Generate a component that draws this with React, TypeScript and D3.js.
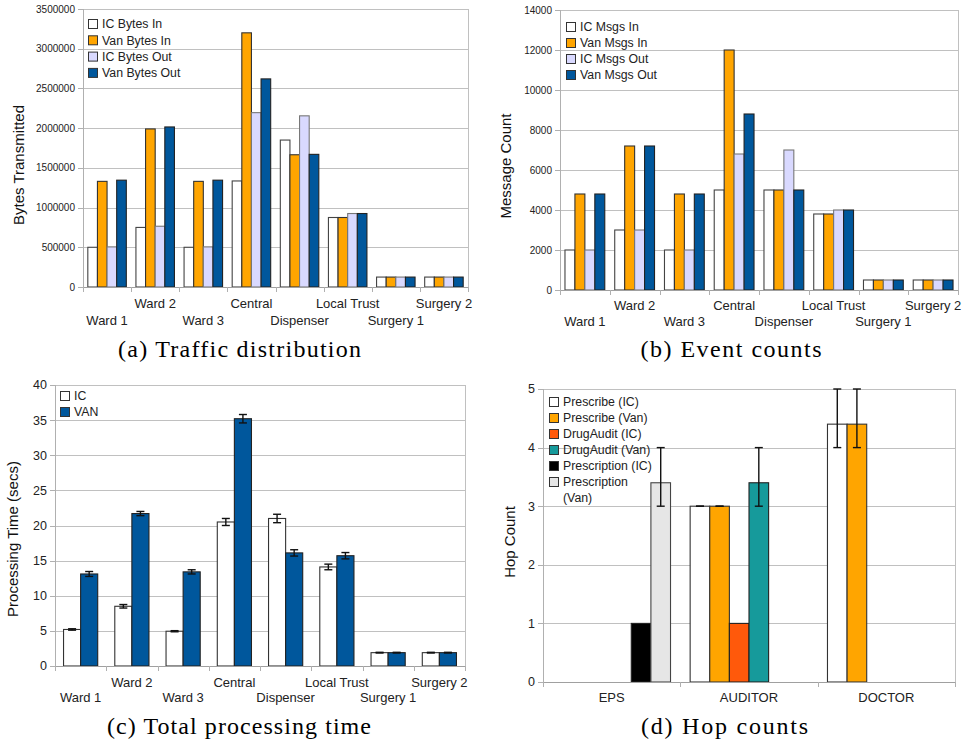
import React from 'react';
import * as d3 from 'd3';

// ---- data ----
const wards = ['Ward 1', 'Ward 2', 'Ward 3', 'Central', 'Dispenser', 'Local Trust', 'Surgery 1', 'Surgery 2'];

const bytesSeriesNames = ['IC Bytes In', 'Van Bytes In', 'IC Bytes Out', 'Van Bytes Out'];
const icBytesIn = [500000, 750000, 500000, 1335000, 1850000, 875000, 125000, 125000];
const vanBytesIn = [1330000, 1990000, 1330000, 3200000, 1665000, 875000, 125000, 125000];
const icBytesOut = [505000, 765000, 505000, 2195000, 2155000, 925000, 125000, 125000];
const vanBytesOut = [1345000, 2015000, 1345000, 2620000, 1670000, 925000, 125000, 125000];

const msgSeriesNames = ['IC Msgs In', 'Van Msgs In', 'IC Msgs Out', 'Van Msgs Out'];
const icMsgsIn = [2000, 3000, 2000, 5000, 5000, 3800, 500, 500];
const vanMsgsIn = [4800, 7200, 4800, 12000, 5000, 3800, 500, 500];
const icMsgsOut = [2000, 3000, 2000, 6800, 7000, 4000, 500, 500];
const vanMsgsOut = [4800, 7200, 4800, 8800, 5000, 4000, 500, 500];

const timeSeriesNames = ['IC', 'VAN'];
const icTime = [5.2, 8.5, 4.95, 20.5, 21.0, 14.1, 1.9, 1.9];
const icTimeErr = [0.1, 0.25, 0.08, 0.5, 0.6, 0.4, 0.05, 0.05];
const vanTime = [13.1, 21.7, 13.4, 35.2, 16.1, 15.7, 1.9, 1.9];
const vanTimeErr = [0.35, 0.3, 0.3, 0.6, 0.45, 0.45, 0.05, 0.05];

const hopCategories = ['EPS', 'AUDITOR', 'DOCTOR'];
const hopSeriesNames = ['Prescribe (IC)', 'Prescribe (Van)', 'DrugAudit (IC)', 'DrugAudit (Van)', 'Prescription (IC)', 'Prescription (Van)'];
const prescribeIC = [null, 3, 4.4];
const prescribeICRange = [null, [3, 3], [4, 5]];
const prescribeVan = [null, 3, 4.4];
const prescribeVanRange = [null, [3, 3], [4, 5]];
const drugAuditIC = [null, 1, null];
const drugAuditVan = [null, 3.4, null];
const drugAuditVanRange = [null, [3, 4], null];
const prescriptionIC = [1, null, null];
const prescriptionVan = [3.4, null, null];
const prescriptionVanRange = [[3, 4], null, null];

const bytesTicks = d3.range(0, 3500001, 500000);
const msgTicks = d3.range(0, 14001, 2000);
const timeTicks = d3.range(0, 41, 5);
const hopTicks = d3.range(0, 6, 1);

// colours
const WHITE = '#ffffff';
const ORANGE = '#ffa500';
const LAVENDER = '#d9d9ff';
const BLUE = '#00579c';
const RED = '#ff590b';
const TEAL = '#169a9b';
const BLACK = '#000000';
const LIGHTGRAY = '#e6e6e6';

const SANS = "'Liberation Sans', Arial, sans-serif";
const SERIF = "'Liberation Serif', 'Times New Roman', serif";

type Series = {
  name: string;
  color: string;
  stroke: string;
  values: (number | null)[];
  range?: (number[] | null)[];
};

type PanelProps = {
  box: [number, number, number, number]; // x0, y0, x1, y1
  categories: string[];
  series: Series[];
  ticks: number[];
  tickFont: number;
  stagger: boolean;
  labelRows: [number, number];
  legend: { x: number; y: number; step: number; wrap?: number };
  yLabel: string;
  yLabelPos: [number, number];
};

function Panel(p: PanelProps) {
  const [x0, y0, x1, y1] = p.box;
  const xCat = d3.scaleBand().domain(p.categories).range([x0, x1]).paddingInner(0).paddingOuter(0);
  const xSer = d3.scaleBand().domain(p.series.map(s => s.name)).range([0, xCat.bandwidth()]).paddingInner(0).paddingOuter(0.5);
  const y = d3.scaleLinear().domain([0, p.ticks[p.ticks.length - 1]]).range([y1, y0]);

  const legendRows: { text: string; box: Series | null }[] = [];
  p.series.forEach(s => {
    if (p.legend.wrap && s.name.length > p.legend.wrap) {
      const i = s.name.lastIndexOf(' ');
      legendRows.push({ text: s.name.slice(0, i), box: s });
      legendRows.push({ text: s.name.slice(i + 1), box: null });
    } else legendRows.push({ text: s.name, box: s });
  });

  return (
    <g>
      {/* grid */}
      {p.ticks.map(t => (
        <line key={'g' + t} x1={x0} x2={x1} y1={Math.round(y(t)) + 0.5} y2={Math.round(y(t)) + 0.5} stroke="#c0c0c0" strokeWidth={1} />
      ))}
      <line x1={x1 + 0.5} x2={x1 + 0.5} y1={y0} y2={y1} stroke="#c0c0c0" />
      <line x1={x0 + 0.5} x2={x0 + 0.5} y1={y0} y2={y1 + 5} stroke="#b0b0b0" />
      {/* y ticks */}
      {p.ticks.map(t => (
        <g key={'t' + t}>
          <line x1={x0 - 5} x2={x0} y1={Math.round(y(t)) + 0.5} y2={Math.round(y(t)) + 0.5} stroke="#b0b0b0" />
          <text x={x0 - 8} y={y(t)} dy="0.35em" textAnchor="end" fontSize={p.tickFont} fontFamily={SANS} fill="#222">
            {t}
          </text>
        </g>
      ))}
      {/* bars */}
      {p.series.map(s =>
        s.values.map((v, i) =>
          v == null ? null : (
            <rect
              key={s.name + i}
              x={(xCat(p.categories[i]) as number) + (xSer(s.name) as number)}
              y={y(v)}
              width={xSer.bandwidth()}
              height={y1 - y(v)}
              fill={s.color}
              stroke={s.stroke}
              strokeWidth={1.1}
            />
          )
        )
      )}
      {/* error bars */}
      {p.series.map(s =>
        (s.range || []).map((r, i) => {
          if (!r) return null;
          const cx = (xCat(p.categories[i]) as number) + (xSer(s.name) as number) + xSer.bandwidth() / 2;
          return (
            <g key={'e' + s.name + i} stroke="#111" strokeWidth={1.4}>
              <line x1={cx} x2={cx} y1={y(r[0])} y2={y(r[1])} />
              <line x1={cx - 4} x2={cx + 4} y1={y(r[0])} y2={y(r[0])} />
              <line x1={cx - 4} x2={cx + 4} y1={y(r[1])} y2={y(r[1])} />
            </g>
          );
        })
      )}
      {/* category axis */}
      <line x1={x0} x2={x1 + 1} y1={y1 + 0.5} y2={y1 + 0.5} stroke="#a0a0a0" />
      {p.categories.map((c, i) => (
        <line key={'ct' + i} x1={Math.round(xCat(c) as number) + 0.5} x2={Math.round(xCat(c) as number) + 0.5} y1={y1} y2={y1 + 5} stroke="#b0b0b0" />
      ))}
      <line x1={x1 + 0.5} x2={x1 + 0.5} y1={y1} y2={y1 + 5} stroke="#b0b0b0" />
      {p.categories.map((c, i) => (
        <text
          key={'cl' + c}
          x={(xCat(c) as number) + xCat.bandwidth() / 2}
          y={p.stagger && i % 2 === 0 ? p.labelRows[1] : p.labelRows[0]}
          textAnchor="middle"
          fontSize={13}
          fontFamily={SANS}
          fill="#222"
        >
          {c}
        </text>
      ))}
      {/* legend */}
      {legendRows.map((r, i) => (
        <g key={'l' + i}>
          {r.box && (
            <rect x={p.legend.x + 0.5} y={p.legend.y + i * p.legend.step - 4.5} width={9} height={9} fill={r.box.color} stroke="#333" strokeWidth={1} />
          )}
          <text x={p.legend.x + 14} y={p.legend.y + i * p.legend.step} dy="0.36em" fontSize={12.3} fontFamily={SANS} fill="#222">
            {r.text}
          </text>
        </g>
      ))}
      {/* y label */}
      <text
        transform={`translate(${p.yLabelPos[0]},${p.yLabelPos[1]}) rotate(-90)`}
        textAnchor="middle"
        dy="0.35em"
        fontSize={15}
        fontFamily={SANS}
        fill="#111"
      >
        {p.yLabel}
      </text>
    </g>
  );
}

function Caption({ x, y, w, text }: { x: number; y: number; w: number; text: string }) {
  return (
    <text x={x - w / 2} y={y} fontSize={24} fontFamily={SERIF} fill="#000" textLength={w} lengthAdjust="spacing">
      {text}
    </text>
  );
}

export default function App() {
  const bytesSeries: Series[] = [
    { name: bytesSeriesNames[0], color: WHITE, stroke: '#444', values: icBytesIn },
    { name: bytesSeriesNames[1], color: ORANGE, stroke: '#333', values: vanBytesIn },
    { name: bytesSeriesNames[2], color: LAVENDER, stroke: '#777', values: icBytesOut },
    { name: bytesSeriesNames[3], color: BLUE, stroke: '#222', values: vanBytesOut },
  ];
  const msgSeries: Series[] = [
    { name: msgSeriesNames[0], color: WHITE, stroke: '#444', values: icMsgsIn },
    { name: msgSeriesNames[1], color: ORANGE, stroke: '#333', values: vanMsgsIn },
    { name: msgSeriesNames[2], color: LAVENDER, stroke: '#777', values: icMsgsOut },
    { name: msgSeriesNames[3], color: BLUE, stroke: '#222', values: vanMsgsOut },
  ];
  const timeSeries: Series[] = [
    { name: timeSeriesNames[0], color: WHITE, stroke: '#333', values: icTime, range: icTime.map((v, i) => [v - icTimeErr[i], v + icTimeErr[i]]) },
    { name: timeSeriesNames[1], color: BLUE, stroke: '#222', values: vanTime, range: vanTime.map((v, i) => [v - vanTimeErr[i], v + vanTimeErr[i]]) },
  ];
  const hopSeries: Series[] = [
    { name: hopSeriesNames[0], color: WHITE, stroke: '#333', values: prescribeIC, range: prescribeICRange },
    { name: hopSeriesNames[1], color: ORANGE, stroke: '#333', values: prescribeVan, range: prescribeVanRange },
    { name: hopSeriesNames[2], color: RED, stroke: '#222', values: drugAuditIC },
    { name: hopSeriesNames[3], color: TEAL, stroke: '#222', values: drugAuditVan, range: drugAuditVanRange },
    { name: hopSeriesNames[4], color: BLACK, stroke: '#222', values: prescriptionIC },
    { name: hopSeriesNames[5], color: LIGHTGRAY, stroke: '#444', values: prescriptionVan, range: prescriptionVanRange },
  ];

  return (
    <svg width={962} height={743} style={{ position: 'absolute', left: 0, top: 0, background: '#fff' }}>
      <rect width={962} height={743} fill="#fff" />
      <Panel
        box={[83, 9, 468, 287]}
        categories={wards}
        series={bytesSeries}
        ticks={bytesTicks}
        tickFont={10}
        stagger
        labelRows={[308, 325]}
        legend={{ x: 88, y: 24, step: 16.3 }}
        yLabel="Bytes Transmitted"
        yLabelPos={[19, 165]}
      />
      <Panel
        box={[560, 10, 958, 290]}
        categories={wards}
        series={msgSeries}
        ticks={msgTicks}
        tickFont={10}
        stagger
        labelRows={[310, 326]}
        legend={{ x: 566, y: 27, step: 16 }}
        yLabel="Message Count"
        yLabelPos={[506, 166]}
      />
      <Panel
        box={[55, 385, 465, 666]}
        categories={wards}
        series={timeSeries}
        ticks={timeTicks}
        tickFont={12.5}
        stagger
        labelRows={[687, 702]}
        legend={{ x: 60, y: 396, step: 16 }}
        yLabel="Processing Time (secs)"
        yLabelPos={[13, 539]}
      />
      <Panel
        box={[543, 389, 955, 682]}
        categories={hopCategories}
        series={hopSeries}
        ticks={hopTicks}
        tickFont={12.5}
        stagger={false}
        labelRows={[702, 702]}
        legend={{ x: 549, y: 402, step: 16, wrap: 17 }}
        yLabel="Hop Count"
        yLabelPos={[510, 542]}
      />
      <Caption x={239.5} y={357} w={243} text="(a) Traffic distribution" />
      <Caption x={731} y={357} w={181} text="(b) Event counts" />
      <Caption x={239} y={734} w={264} text="(c) Total processing time" />
      <Caption x={724.5} y={734} w={167} text="(d) Hop counts" />
    </svg>
  );
}
